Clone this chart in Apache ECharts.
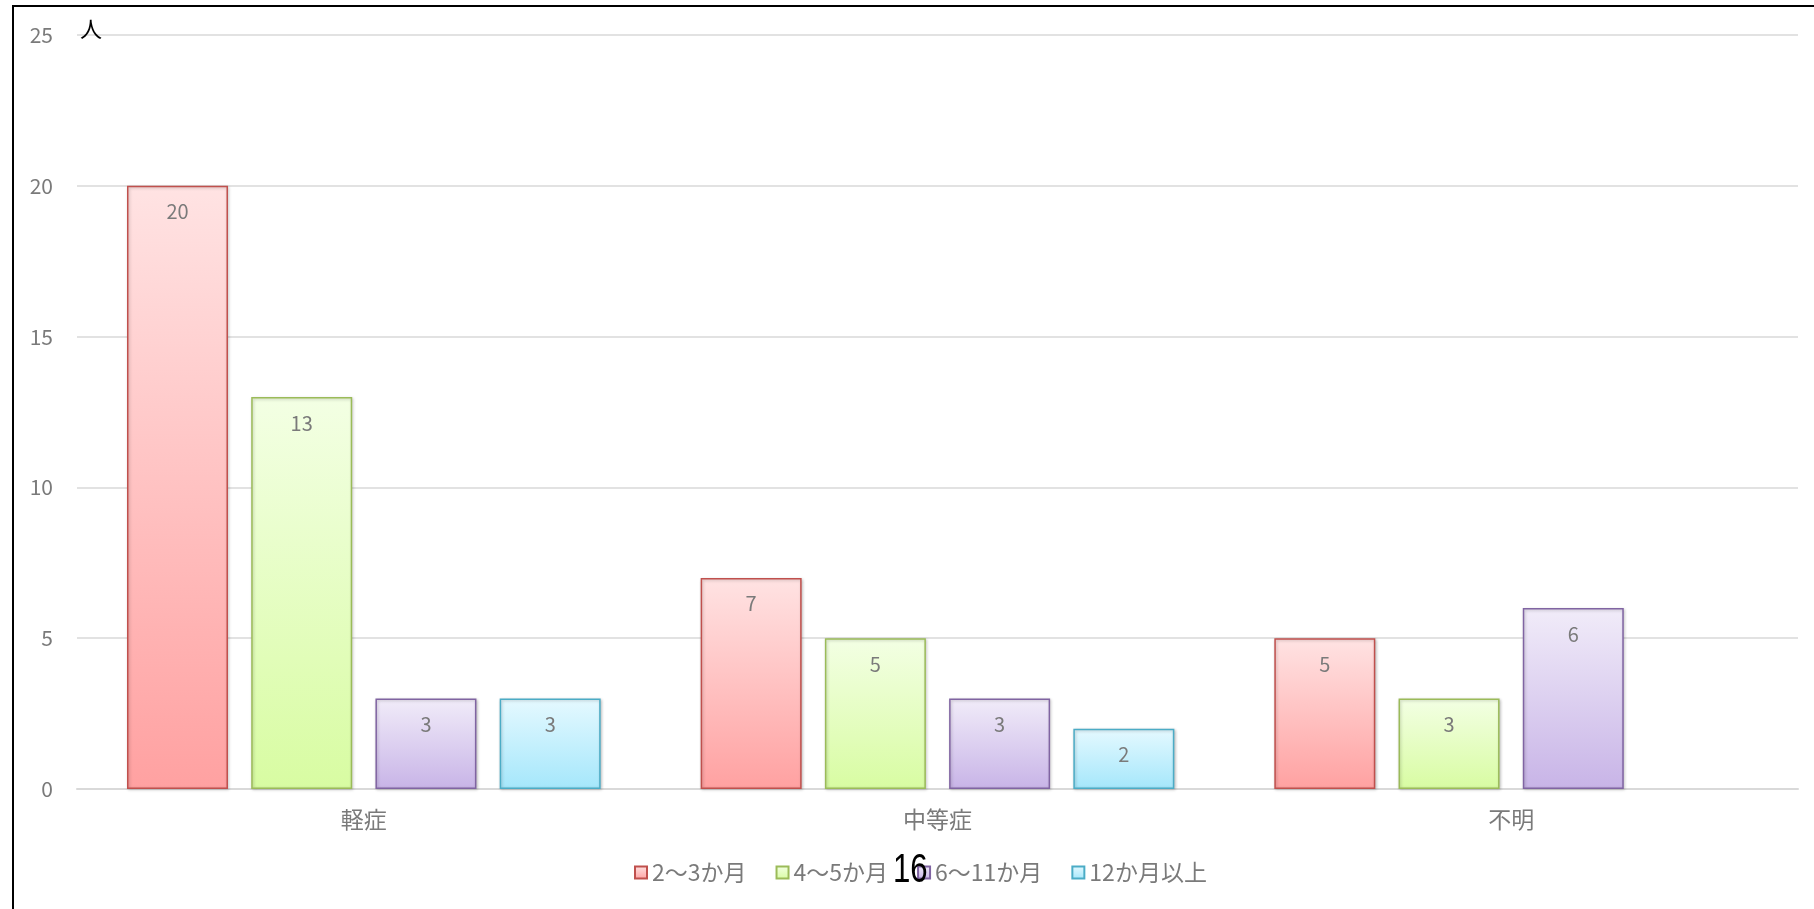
<!DOCTYPE html>
<html>
<head>
<meta charset="utf-8">
<script src="https://cdn.jsdelivr.net/npm/echarts@6/dist/echarts.min.js"></script>
<style>
html,body{margin:0;padding:0;background:#fff;}
#main{width:1814px;height:909px;}
</style>
</head>
<body>
<div id="main"></div>
<script>
// ---- data ----
const categories = ['軽症', '中等症', '不明'];
const seriesNames = ['2〜3か月', '4〜5か月', '6〜11か月', '12か月以上'];
const values_2_3 = [20, 7, 5];
const values_4_5 = [13, 5, 3];
const values_6_11 = [3, 3, 6];
const values_12plus = [3, 2, null];
const yTicks = [0, 5, 10, 15, 20, 25];
const yUnit = '人';
const pageNumber = '16';

// ---- styles ----
const palette = [
  { top: '#ffe3e3', bottom: '#ffa1a1', border: '#c0504d' },
  { top: '#f3ffe4', bottom: '#d8fca2', border: '#9bbb59' },
  { top: '#f1ecf9', bottom: '#c8b4e7', border: '#8064a2' },
  { top: '#e5f9ff', bottom: '#a5e7fb', border: '#4bacc6' }
];
const seriesValues = [values_2_3, values_4_5, values_6_11, values_12plus];
const FONT = '"Noto Sans CJK JP", "Noto Sans", sans-serif';
const GREY = '#7a7a7a';

const chart = echarts.init(document.getElementById('main'));

const series = seriesNames.map((name, i) => ({
  name: name,
  type: 'bar',
  data: seriesValues[i],
  barWidth: 101,
  barGap: '23%',
  itemStyle: {
    color: new echarts.graphic.LinearGradient(0, 0, 0, 1, [
      { offset: 0, color: palette[i].top },
      { offset: 1, color: palette[i].bottom }
    ]),
    borderColor: palette[i].border,
    borderWidth: 1.5,
    shadowColor: 'rgba(0,0,0,0.22)',
    shadowBlur: 3,
    shadowOffsetX: 1,
    shadowOffsetY: 1
  },
  label: {
    show: true,
    position: 'insideTop',
    distance: 16,
    color: GREY,
    fontSize: 20,
    fontFamily: FONT
  }
}));

chart.setOption({
  animation: false,
  backgroundColor: '#fff',
  grid: { left: 77, right: 16, top: 35, bottom: 120, containLabel: false },
  legend: {
    data: seriesNames,
    bottom: 20,
    left: 629,
    padding: 5,
    icon: 'rect',
    itemWidth: 12,
    itemHeight: 12,
    itemGap: 29,
    textStyle: { color: GREY, fontSize: 23, fontFamily: FONT }
  },
  xAxis: {
    type: 'category',
    data: categories,
    axisLine: { show: true, lineStyle: { color: '#d9d9d9', width: 2 } },
    axisTick: { show: false },
    axisLabel: { color: GREY, fontSize: 23, fontFamily: FONT, margin: 19 }
  },
  yAxis: {
    type: 'value',
    min: yTicks[0],
    max: yTicks[yTicks.length - 1],
    interval: yTicks[1] - yTicks[0],
    axisLine: { show: false },
    axisTick: { show: false },
    splitLine: { lineStyle: { color: '#d9d9d9', width: 1.5 } },
    axisLabel: { color: GREY, fontSize: 21, fontFamily: FONT, margin: 24 }
  },
  series: series,
  graphic: [
    {
      type: 'polyline',
      shape: { points: [[13, 909], [13, 6], [1814, 6]] },
      style: { stroke: '#000', lineWidth: 2, fill: null },
      z: 10
    },
    {
      type: 'text',
      left: 80,
      top: 18,
      style: { text: yUnit, fill: '#000', fontSize: 22, fontFamily: FONT },
      z: 10
    },
    {
      type: 'text',
      x: 893,
      y: 851,
      scaleX: 0.78,
      style: { text: pageNumber, fill: '#000', fontSize: 40, fontFamily: '"Liberation Sans", sans-serif' },
      z: 20
    }
  ]
});
</script>
</body>
</html>
